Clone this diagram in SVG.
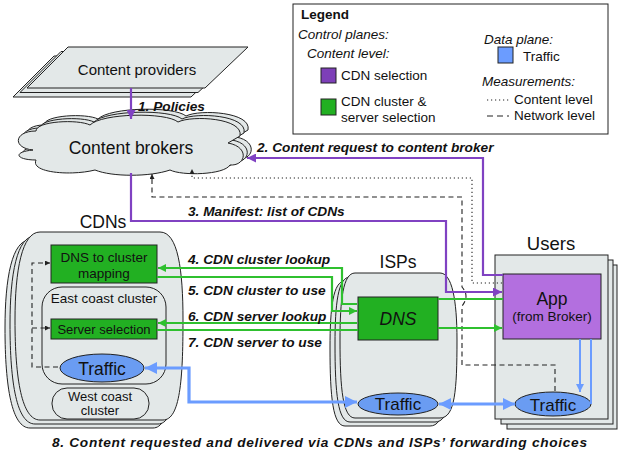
<svg xmlns="http://www.w3.org/2000/svg" width="619" height="453" viewBox="0 0 619 453">
<style>
text{font-family:"Liberation Sans",Arial,sans-serif;fill:#111}
.lbl{font-weight:bold;font-style:italic;font-size:13.7px}
.it{font-style:italic;font-size:13.5px}
.lg{font-size:13.5px}
.gray{fill:#e3e8e8;stroke:#222;stroke-width:1}
.gbox{fill:#22b022;stroke:#222;stroke-width:1}
.ell{fill:#6a9cf2;stroke:#222;stroke-width:1}
.pur{fill:none;stroke:#8042c2;stroke-width:2.2}
.grn{fill:none;stroke:#2fc02f;stroke-width:2.2}
.blu{fill:none;stroke:#6b9cff;stroke-width:3.2}
.blut{fill:none;stroke:#6b9cff;stroke-width:2}
.dot{fill:none;stroke:#222;stroke-width:1.1;stroke-dasharray:1.2 2.8}
.dsh{fill:none;stroke:#222;stroke-width:1.1;stroke-dasharray:5 3.5}
</style>
<defs>
<marker id="ap" viewBox="0 0 10 10" refX="10" refY="5" markerWidth="10" markerHeight="9" markerUnits="userSpaceOnUse" orient="auto-start-reverse"><path d="M0,0 L10,5 L0,10 z" fill="#8042c2"/></marker>
<marker id="ag" viewBox="0 0 10 10" refX="10" refY="5" markerWidth="11" markerHeight="8" markerUnits="userSpaceOnUse" orient="auto-start-reverse"><path d="M0,0 L10,5 L0,10 z" fill="#2fc02f"/></marker>
<marker id="ab" viewBox="0 0 10 10" refX="10" refY="5" markerWidth="15" markerHeight="12" markerUnits="userSpaceOnUse" orient="auto-start-reverse"><path d="M0,0 L10,5 L0,10 z" fill="#6b9cff"/></marker>
<marker id="abt" viewBox="0 0 10 10" refX="10" refY="5" markerWidth="10" markerHeight="8" markerUnits="userSpaceOnUse" orient="auto-start-reverse"><path d="M0,0 L10,5 L0,10 z" fill="#6b9cff"/></marker>
<marker id="ak" viewBox="0 0 10 10" refX="10" refY="5" markerWidth="6" markerHeight="5" markerUnits="userSpaceOnUse" orient="auto-start-reverse"><path d="M0,0 L10,5 L0,10 z" fill="#222"/></marker>
<path id="cloud" d="M33,150 C12,148 14,131 36,131 C36,121 78,119 90,125 C102,113 166,112 178,122 C192,115 244,118 240,136 L228,143 C250,147 246,166 230,165 C224,175 182,176 170,170 C150,177 112,177 95,170 C72,176 30,173 36,160 C16,160 12,152 33,150 Z"/>
<path id="para" d="M68,47 L248,47 L205,88 L27,88 Z"/>
</defs>

<g id="legend">
<rect x="293" y="4" width="315" height="130" fill="#fff" stroke="#222" stroke-width="1"/>
<text x="301" y="19" class="lg" font-weight="bold">Legend</text>
<text x="298" y="39" class="it">Control planes:</text>
<text x="307" y="58" class="it">Content level:</text>
<rect x="321" y="68" width="15" height="15" fill="#7d3fb8" stroke="#222"/>
<text x="341" y="80" class="lg">CDN selection</text>
<rect x="321" y="99" width="15" height="16" fill="#22b022" stroke="#222"/>
<text x="341" y="106" class="lg">CDN cluster &amp;</text>
<text x="341" y="122" class="lg">server selection</text>
<text x="484" y="44" class="it">Data plane:</text>
<rect x="498" y="47" width="15" height="16" fill="#6b9cff" stroke="#222"/>
<text x="523" y="61" class="lg">Traffic</text>
<text x="482" y="86" class="it">Measurements:</text>
<line x1="487" y1="100" x2="509" y2="100" class="dot"/>
<text x="514" y="104" class="lg">Content level</text>
<line x1="487" y1="116" x2="509" y2="116" stroke="#222" stroke-width="1.1" stroke-dasharray="6 4"/>
<text x="514" y="120" class="lg">Network level</text>
</g>

<g id="content-providers">
<use href="#para" transform="translate(-14,9)" class="gray"/>
<use href="#para" transform="translate(-7,4.5)" class="gray"/>
<use href="#para" class="gray"/>
<text x="137" y="75" font-size="15" text-anchor="middle">Content providers</text>
</g>

<g id="content-brokers">
<use href="#cloud" transform="translate(8,-6)" class="gray"/>
<use href="#cloud" transform="translate(4,-3)" class="gray"/>
<use href="#cloud" class="gray"/>
<text x="131" y="154" font-size="17.5" text-anchor="middle">Content brokers</text>
</g>

<g id="cdns">
<text x="103" y="228" font-size="17.5" text-anchor="middle">CDNs</text>
<path transform="translate(-10,8)" class="gray" d="M40,232 H160 C178,232 183,270 183,320 C183,380 180,420 163,420 H40 C22,420 15,380 15,320 C15,270 22,232 40,232 Z"/>
<path transform="translate(-5,4)" class="gray" d="M40,232 H160 C178,232 183,270 183,320 C183,380 180,420 163,420 H40 C22,420 15,380 15,320 C15,270 22,232 40,232 Z"/>
<path class="gray" d="M40,232 H160 C178,232 183,270 183,320 C183,380 180,420 163,420 H40 C22,420 15,380 15,320 C15,270 22,232 40,232 Z"/>
<g id="dns-mapping">
<rect x="51" y="245" width="106" height="38" class="gbox"/>
<text x="104" y="262" font-size="13.5" text-anchor="middle">DNS to cluster</text>
<text x="104" y="278" font-size="13.5" text-anchor="middle">mapping</text>
</g>
<g id="east-coast">
<rect x="42" y="287" width="124" height="97" rx="20" ry="20" fill="none" stroke="#222"/>
<text x="104" y="303" font-size="13.5" text-anchor="middle">East coast cluster</text>
</g>
<g id="server-selection">
<rect x="51" y="319" width="106" height="20" class="gbox"/>
<text x="104" y="334" font-size="13" text-anchor="middle">Server selection</text>
</g>
<g id="cdn-traffic">
<ellipse cx="102" cy="368" rx="42" ry="14" class="ell"/>
<text x="102" y="375" font-size="17.5" text-anchor="middle">Traffic</text>
</g>
<g id="west-coast">
<rect x="52" y="388" width="97" height="31" rx="15" ry="15" fill="none" stroke="#222"/>
<text x="100" y="401" font-size="13" text-anchor="middle">West coast</text>
<text x="100" y="415" font-size="13" text-anchor="middle">cluster</text>
</g>
</g>

<g id="isps">
<text x="398" y="268" font-size="17.5" text-anchor="middle">ISPs</text>
<path transform="translate(-10,8)" class="gray" d="M355,273 H440 C452,273 457,300 457,340 C457,390 455,418 440,418 H355 C343,418 340,390 340,340 C340,300 343,273 355,273 Z"/>
<path transform="translate(-5,4)" class="gray" d="M355,273 H440 C452,273 457,300 457,340 C457,390 455,418 440,418 H355 C343,418 340,390 340,340 C340,300 343,273 355,273 Z"/>
<path class="gray" d="M355,273 H440 C452,273 457,300 457,340 C457,390 455,418 440,418 H355 C343,418 340,390 340,340 C340,300 343,273 355,273 Z"/>
<g id="isp-dns">
<rect x="358" y="297" width="80" height="43" class="gbox"/>
<text x="398" y="325" font-size="17.5" font-style="italic" text-anchor="middle">DNS</text>
</g>
<g id="isp-traffic">
<ellipse cx="398" cy="404" rx="40" ry="11" class="ell"/>
<text x="398" y="410" font-size="17" text-anchor="middle">Traffic</text>
</g>
</g>

<g id="users">
<text x="551" y="250" font-size="18.5" text-anchor="middle">Users</text>
<rect x="507" y="265" width="110" height="164" class="gray"/>
<rect x="501" y="260" width="112" height="164" class="gray"/>
<rect x="495" y="255" width="113" height="164" class="gray"/>
<g id="app">
<rect x="503" y="274" width="98" height="65" fill="#b36fdf" stroke="#222"/>
<text x="552" y="305" font-size="17.5" text-anchor="middle">App</text>
<text x="552" y="321" font-size="13.5" text-anchor="middle">(from Broker)</text>
</g>
<g id="user-traffic">
<ellipse cx="553" cy="404" rx="38" ry="12" class="ell"/>
<text x="553" y="411" font-size="17" text-anchor="middle">Traffic</text>
</g>
</g>

<g id="connectors">
<path d="M131,88 V119" class="pur" marker-end="url(#ap)"/>
<path d="M503,275 H483 V158 H247" class="pur" marker-end="url(#ap)"/>
<path d="M502,283 H472 V178 H192 V169" class="dot" marker-end="url(#ak)"/>
<path d="M555,391 V365 H462 V306 Q470,296 462,287 V197 H152 V174" class="dsh" marker-end="url(#ak)"/>
<path d="M131,173 V221 H446 V292 H502" class="pur" marker-end="url(#ap)"/>
<path d="M357,304 H342 V268 H158" class="grn" marker-end="url(#ag)"/>
<path d="M157,277 H332 V311 H357" class="grn" marker-end="url(#ag)"/>
<path d="M357,323 H158" class="grn" marker-end="url(#ag)"/>
<path d="M157,330 H358" class="grn"/>
<path d="M438,299 H503" class="grn"/>
<path d="M438,328 H502" class="grn" marker-end="url(#ag)"/>
<path d="M58,367 H32 V263 H50" class="dsh" marker-end="url(#ak)"/>
<path d="M32,328 H50" class="dsh" marker-end="url(#ak)"/>
<path d="M145,368 H189 V402 H357" class="blu" marker-start="url(#ab)" marker-end="url(#ab)"/>
<path d="M439,404 H515" class="blu" marker-start="url(#ab)" marker-end="url(#ab)"/>
<path d="M580,339 V392" class="blut" marker-end="url(#abt)"/>
<path d="M591,339 V404" class="blut"/>
</g>

<g id="labels">
<text x="138" y="111" class="lbl" font-size="13.3">1. Policies</text>
<text x="257" y="152" class="lbl">2. Content request to content broker</text>
<text x="188" y="216" class="lbl">3. Manifest: list of CDNs</text>
<text x="188" y="264" class="lbl">4. CDN cluster lookup</text>
<text x="188" y="295" class="lbl">5. CDN cluster to use</text>
<text x="188" y="321" class="lbl">6. CDN server lookup</text>
<text x="188" y="347" class="lbl">7. CDN server to use</text>
<text x="52" y="447" class="lbl" textLength="535" lengthAdjust="spacing">8. Content requested and delivered via CDNs and ISPs’ forwarding choices</text>
</g>
</svg>
